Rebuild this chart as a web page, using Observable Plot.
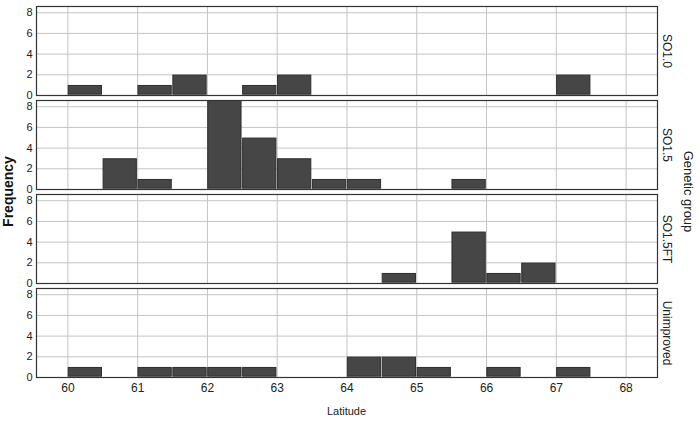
<!DOCTYPE html>
<html>
<head>
<meta charset="utf-8">
<script src="https://cdn.jsdelivr.net/npm/d3@7"></script>
<script src="https://cdn.jsdelivr.net/npm/@observablehq/plot@0.6"></script>
<style>
  html, body { margin: 0; padding: 0; background: white; }
</style>
</head>
<body>
<div id="chart"></div>
<script>
const groups = ["SO1.0", "SO1.5", "SO1.5FT", "Unimproved"];
const xTicks = [60, 61, 62, 63, 64, 65, 66, 67, 68];
const yTicks = [0, 2, 4, 6, 8];
const binWidth = 0.5;

const binsSO10 = [60, 61, 61.5, 62.5, 63, 67];
const countsSO10 = [1, 1, 2, 1, 2, 2];

const binsSO15 = [60.5, 61, 62, 62.5, 63, 63.5, 64, 65.5];
const countsSO15 = [3, 1, 9, 5, 3, 1, 1, 1];

const binsSO15FT = [64.5, 65.5, 66, 66.5];
const countsSO15FT = [1, 5, 1, 2];

const binsUnimp = [60, 61, 61.5, 62, 62.5, 64, 64.5, 65, 66, 67];
const countsUnimp = [1, 1, 1, 1, 1, 2, 2, 1, 1, 1];

const series = [
  [groups[0], binsSO10, countsSO10],
  [groups[1], binsSO15, countsSO15],
  [groups[2], binsSO15FT, countsSO15FT],
  [groups[3], binsUnimp, countsUnimp]
];
const rows = series.flatMap(([g, bins, counts]) =>
  bins.map((b, i) => ({group: g, x1: b, x2: b + binWidth, count: counts[i]})));

const W = 700, H = 422;
const mL = 36, mR = 43, mT = 6, mB = 45;

const chart = Plot.plot({
  width: W,
  height: H,
  marginLeft: mL,
  marginRight: mR,
  marginTop: mT,
  marginBottom: mB,
  style: {fontFamily: "Liberation Sans, Arial, sans-serif", fontSize: "12px", color: "#222", background: "white"},
  x: {domain: [59.55, 68.45]},
  y: {domain: [0, 8.6]},
  fy: {domain: groups, paddingInner: 0.055, paddingOuter: 0, axis: null},
  marks: [
    Plot.gridX(xTicks, {stroke: "#c4c4c4", strokeOpacity: 1}),
    Plot.gridY(yTicks, {stroke: "#c4c4c4", strokeOpacity: 1}),
    Plot.rectY(rows, {x1: "x1", x2: "x2", y: "count", fy: "group", fill: "#464646", stroke: "#2e2e2e", strokeWidth: 1, inset: 0.8, clip: true}),
    Plot.frame({stroke: "#333", strokeWidth: 1.2}),
    Plot.axisY(yTicks, {tickSize: 0, tickPadding: 4, label: null, fontSize: 11}),
    Plot.axisX(xTicks, {tickSize: 0, tickPadding: 6, label: null, fontSize: 12}),
    Plot.text(groups, {fy: d => d, text: d => d, frameAnchor: "right", rotate: 90, dx: 9, textAnchor: "middle", fontSize: 12, fill: "#222"})
  ]
});

document.getElementById("chart").appendChild(chart);

const svg = d3.select(chart);
const plotBottom = H - mB;
svg.append("text")
  .attr("x", (mL + (W - mR)) / 2)
  .attr("y", 415)
  .attr("text-anchor", "middle")
  .attr("font-family", "Liberation Sans, Arial, sans-serif")
  .attr("font-size", 11)
  .attr("fill", "#222")
  .text("Latitude");

svg.append("text")
  .attr("transform", `translate(13, ${(mT + plotBottom) / 2}) rotate(-90)`)
  .attr("text-anchor", "middle")
  .attr("font-family", "Liberation Sans, Arial, sans-serif")
  .attr("font-size", 14)
  .attr("font-weight", "bold")
  .attr("fill", "#111")
  .text("Frequency");

svg.append("text")
  .attr("transform", `translate(687, ${(mT + plotBottom) / 2}) rotate(90)`)
  .attr("text-anchor", "middle")
  .attr("dominant-baseline", "middle")
  .attr("font-family", "Liberation Sans, Arial, sans-serif")
  .attr("font-size", 13)
  .attr("fill", "#222")
  .text("Genetic group");
</script>
</body>
</html>
